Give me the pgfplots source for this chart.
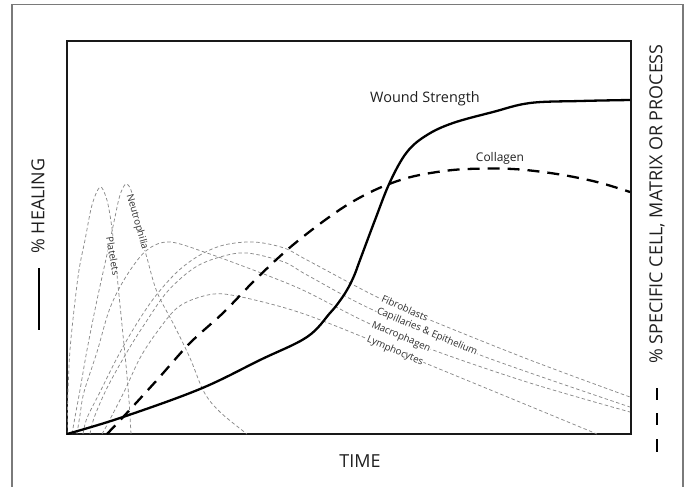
\documentclass[border=0pt]{standalone}
\usepackage{fontspec}
\setmainfont{Open Sans}
\usepackage{pgfplots}
\pgfplotsset{compat=1.18}
\definecolor{cellgray}{HTML}{8A8A8A}
\definecolor{framegray}{HTML}{7A7A7A}
\definecolor{labelgray}{HTML}{2E2E2E}
\tikzset{
  cell/.style={cellgray, line width=0.75bp, dash pattern=on 3.5bp off 2.5bp, smooth, tension=0.55},
  lab/.style={font=\fontsize{9.8}{11}\selectfont, text=labelgray, fill=white, inner sep=0.5bp},
  big/.style={font=\fontsize{18}{20}\selectfont, text=black!88},
}
\begin{document}
\begin{tikzpicture}
\useasboundingbox (0,0) rectangle (690bp,-487bp);
\draw[framegray, line width=1.4bp] (12bp,-495bp) -- (12bp,-4.5bp) -- (683bp,-4.5bp) -- (683bp,-495bp);
\begin{axis}[
  at={(67bp,-434bp)}, anchor=south west,
  scale only axis, width=564bp, height=393bp,
  xmin=0, xmax=564, ymin=0, ymax=393,
  ticks=none,
  axis line style={black!90, line width=1.4bp},
  clip=true,
]
% Platelets
\addplot[cell] coordinates {(0,0) (1,44) (3,84) (7,124) (12,164) (18,194) (25,229) (33,247) (39,237) (43,219) (47,189) (51,149) (55,109) (59,69) (62,34) (64,0)};
% Neutrophilia
\addplot[cell] coordinates {(5,0) (8,17) (13,44) (20,84) (30,134) (41,184) (48,217) (53,239) (59,250) (65,241) (71,209) (80,176) (90,142) (107,109) (123,76) (137,42) (153,22) (180,0)};
% Macrophagen
\addplot[cell] coordinates {(10,0) (13,19) (17,42) (30,82) (43,126) (60,159) (80,184) (103,192) (140,181) (173,169) (207,156) (240,142) (301,111) (366,84) (463,51) (563,22)};
% Fibroblasts
\addplot[cell] coordinates {(16,0) (20,16) (33,42) (50,76) (67,106) (87,136) (110,162) (133,179) (157,189) (187,192) (217,186) (240,174) (310,137) (363,114) (463,74) (563,37)};
% Capillaries & Epithelium
\addplot[cell] coordinates {(23,0) (27,16) (40,46) (60,82) (77,109) (100,142) (127,166) (153,177) (180,181) (217,172) (240,159) (306,124) (413,79) (563,27)};
% Lymphocytes
\addplot[cell] coordinates {(35,0) (40,9) (57,42) (73,76) (90,102) (110,126) (133,137) (157,140) (200,131) (240,119) (296,97) (358,71) (443,36) (530,0)};

\node[lab, rotate=-80] at (axis cs:46,178) {Platelets};
\node[lab, rotate=-74] at (axis cs:70,212) {Neutrophilia};
\node[lab, rotate=-24] at (axis cs:338,126) {Fibroblasts};
\node[lab, rotate=-23] at (axis cs:360,102) {Capillaries \& Epithelium};
\node[lab, rotate=-23] at (axis cs:334,97) {Macrophagen};
\node[lab, rotate=-23] at (axis cs:328,83) {Lymphocytes};

% Collagen
\addplot[black, line width=2.3bp, dash pattern=on 12bp off 8bp, smooth, tension=0.55] coordinates {(40,0) (58,19) (90,54) (123,91) (156,121) (188,154) (220,184) (250,208) (280,229) (310,245) (340,256) (370,262) (400,265) (446,265) (490,260) (530,252) (563,242)};
% Wound strength
\addplot[black, line width=2.3bp, smooth, tension=0.6] coordinates {(0,0) (53,16) (133,45) (193,74) (240,97) (263,121) (272,132) (280,144) (287,158) (293,174) (308,214) (323,252) (340,282) (360,299) (386,311) (426,322) (463,331) (513,333) (563,334)};

\node[font=\fontsize{14.5}{16}\selectfont, text=black!88] at (axis cs:358,335) {Wound Strength};
\node[font=\fontsize{12}{14}\selectfont, text=black!88] at (axis cs:433,276) {Collagen};
\end{axis}
\node[big] at (360bp,-461bp) {TIME};
\node[big, rotate=90] at (38bp,-206bp) {\% HEALING};
\draw[black, line width=2.3bp] (39bp,-268bp) -- (39bp,-330bp);
\node[big, rotate=90] at (657bp,-204bp) {\% SPECIFIC CELL, MATRIX OR PROCESS};
\draw[black, line width=2.3bp] (657bp,-388bp) -- (657bp,-400bp);
\draw[black, line width=2.3bp] (657bp,-413bp) -- (657bp,-425bp);
\draw[black, line width=2.3bp] (657bp,-439bp) -- (657bp,-452bp);
\end{tikzpicture}
\end{document}
